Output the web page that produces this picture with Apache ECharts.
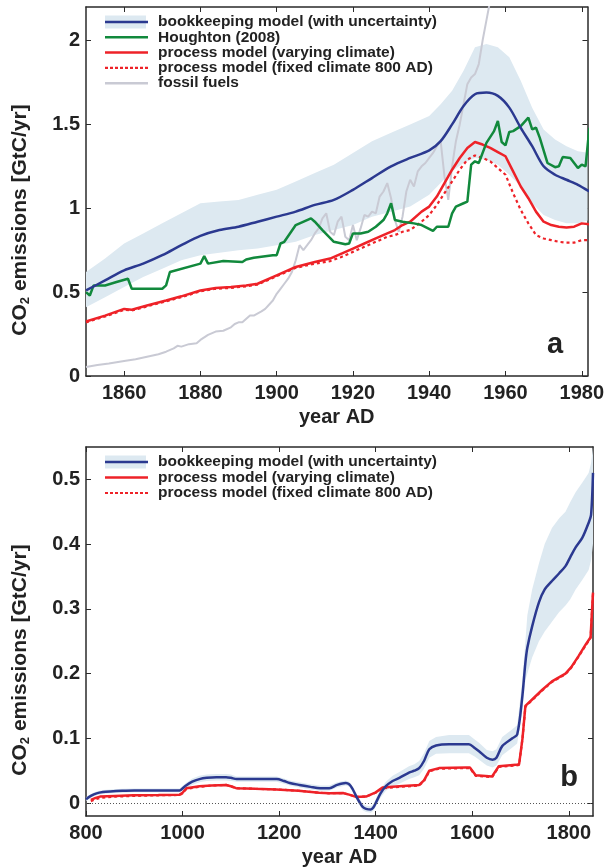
<!DOCTYPE html>
<html>
<head>
<meta charset="utf-8">
<script src="https://cdn.jsdelivr.net/npm/echarts@6/dist/echarts.min.js"></script>
<style>html,body{margin:0;padding:0;background:#fff}#c{width:607px;height:868px}</style>
</head>
<body>
<div id="c"></div>
<script>
// ---------- Panel a (1850-1982) ----------
var topXTicks = [1860, 1880, 1900, 1920, 1940, 1960, 1980];
var topYTicks = [0, 0.5, 1, 1.5, 2];

var bkYearsA = [1850,1855,1860,1865,1870,1875,1880,1885,1890,1895,1900,1905,1910,1915,1920,1925,1930,1935,1940,1943,1946,1949,1952,1955,1958,1961,1964,1967,1970,1973,1976,1979,1982];
var bkA      = [0.51,0.57,0.63,0.67,0.72,0.78,0.835,0.87,0.89,0.92,0.95,0.98,1.02,1.05,1.11,1.18,1.25,1.30,1.345,1.40,1.50,1.61,1.68,1.69,1.67,1.60,1.48,1.37,1.25,1.20,1.17,1.14,1.10];
var bkLoA    = [0.41,0.47,0.53,0.59,0.64,0.69,0.72,0.735,0.75,0.76,0.78,0.80,0.84,0.87,0.90,0.95,0.98,1.01,1.08,1.15,1.22,1.27,1.30,1.29,1.26,1.20,1.13,1.03,0.96,0.93,0.91,0.91,0.93];
var bkHiA    = [0.62,0.70,0.79,0.85,0.91,0.97,1.03,1.04,1.05,1.08,1.11,1.16,1.21,1.26,1.33,1.40,1.45,1.50,1.55,1.62,1.70,1.82,1.96,1.98,1.96,1.90,1.76,1.60,1.47,1.41,1.37,1.34,1.33];

var hoYears = [1850,1851,1852,1855,1858,1861,1862,1870,1871,1872,1880,1881,1882,1886,1891,1892,1894,1899,1900,1901,1902,1905,1909,1910,1912,1915,1918,1919,1920,1922,1924,1926,1928,1929,1930,1931,1933,1936,1938,1941,1942,1945,1946,1947,1949,1950,1951,1952,1953,1955,1957,1958,1959,1960,1961,1962,1964,1966,1967,1968,1969,1971,1973,1974,1975,1977,1978,1979,1980,1981,1982];
var houghton = [0.50,0.48,0.54,0.54,0.56,0.58,0.52,0.52,0.54,0.62,0.67,0.715,0.67,0.685,0.68,0.695,0.705,0.72,0.72,0.79,0.80,0.90,0.94,0.92,0.87,0.80,0.785,0.79,0.85,0.85,0.86,0.89,0.93,0.97,1.03,0.93,0.92,0.91,0.90,0.865,0.89,0.89,0.97,1.01,1.03,1.04,1.26,1.28,1.27,1.39,1.46,1.52,1.395,1.375,1.455,1.46,1.49,1.54,1.47,1.48,1.42,1.27,1.245,1.25,1.305,1.30,1.27,1.24,1.26,1.25,1.48];

var pmYearsA = [1850,1855,1860,1862,1866,1871,1875,1880,1884,1888,1892,1895,1900,1905,1910,1914,1917,1920,1923,1926,1929,1931,1933,1935,1938,1940,1942,1944,1946,1948,1950,1952,1954,1956,1958,1960,1962,1964,1966,1968,1970,1972,1974,1976,1978,1980,1982];
var pmVarA   = [0.325,0.36,0.40,0.395,0.42,0.45,0.475,0.51,0.525,0.53,0.54,0.55,0.60,0.65,0.68,0.70,0.73,0.76,0.79,0.82,0.85,0.87,0.90,0.92,0.98,1.01,1.07,1.15,1.23,1.30,1.36,1.395,1.38,1.36,1.335,1.31,1.22,1.13,1.06,0.98,0.92,0.90,0.89,0.885,0.89,0.91,0.905];
var pmFixA   = [0.32,0.355,0.395,0.39,0.415,0.445,0.47,0.505,0.52,0.525,0.535,0.545,0.595,0.645,0.67,0.685,0.71,0.74,0.77,0.80,0.83,0.84,0.86,0.87,0.92,0.96,1.02,1.09,1.16,1.23,1.29,1.315,1.30,1.28,1.24,1.20,1.09,0.99,0.91,0.84,0.82,0.81,0.80,0.795,0.795,0.81,0.81];

var ffYears = [1850,1853,1856,1860,1863,1866,1869,1871,1873,1874,1875,1877,1879,1880,1882,1884,1886,1888,1889,1890,1891,1893,1894,1896,1897,1899,1900,1901,1902,1903,1904,1905,1906,1907,1908,1909,1910,1911,1912,1913,1914,1915,1916,1917,1918,1919,1920,1921,1922,1923,1924,1925,1926,1927,1928,1929,1930,1931,1932,1933,1934,1935,1936,1937,1938,1939,1940,1941,1942,1943,1944,1945,1946,1947,1948,1949,1950,1951,1952,1953,1954,1955,1956,1957,1958];
var fossil  = [0.054,0.065,0.075,0.09,0.10,0.115,0.13,0.145,0.165,0.18,0.175,0.19,0.195,0.215,0.245,0.265,0.27,0.29,0.31,0.32,0.32,0.36,0.36,0.385,0.40,0.45,0.49,0.52,0.55,0.58,0.62,0.69,0.78,0.75,0.78,0.81,0.85,0.88,0.94,0.97,0.86,0.84,0.92,0.95,0.83,0.81,0.90,0.81,0.88,0.96,0.95,0.98,0.97,1.07,1.10,1.15,1.06,0.93,0.86,0.95,1.10,1.17,1.13,1.22,1.25,1.27,1.30,1.33,1.37,1.40,1.19,1.05,1.25,1.40,1.50,1.62,1.74,1.78,1.80,1.86,2.00,2.12,2.24,2.34,2.42];

// ---------- Panel b (800-1850) ----------
var botXTicks = [800, 1000, 1200, 1400, 1600, 1800];
var botYTicks = [0, 0.1, 0.2, 0.3, 0.4, 0.5];

var bkYearsB = [800,810,822,835,850,875,900,950,994,1005,1020,1035,1050,1070,1090,1100,1112,1150,1195,1210,1222,1242,1265,1285,1304,1320,1338,1345,1352,1360,1366,1373,1380,1390,1395,1400,1410,1421,1435,1449,1469,1480,1490,1500,1511,1525,1552,1593,1605,1614,1630,1642,1650,1662,1683,1693,1703,1710,1714,1724,1738,1750,1765,1780,1793,1803,1814,1828,1841,1846,1850];
var bkB   = [0.006,0.011,0.015,0.017,0.018,0.019,0.0195,0.0195,0.0195,0.026,0.033,0.037,0.039,0.040,0.040,0.039,0.037,0.037,0.037,0.034,0.031,0.028,0.025,0.023,0.023,0.028,0.031,0.029,0.022,0.010,0.002,-0.006,-0.009,-0.010,-0.007,0.000,0.015,0.026,0.034,0.039,0.047,0.050,0.054,0.065,0.083,0.089,0.091,0.091,0.085,0.080,0.070,0.067,0.070,0.088,0.100,0.106,0.160,0.217,0.240,0.273,0.310,0.330,0.343,0.355,0.366,0.380,0.395,0.410,0.433,0.445,0.510];
var bkLoB = [0.003,0.008,0.012,0.014,0.015,0.016,0.0165,0.0165,0.0165,0.022,0.028,0.032,0.034,0.035,0.035,0.034,0.033,0.033,0.033,0.030,0.027,0.024,0.021,0.019,0.019,0.024,0.027,0.025,0.018,0.006,-0.003,-0.011,-0.014,-0.015,-0.012,-0.006,0.008,0.019,0.026,0.030,0.037,0.040,0.043,0.053,0.070,0.076,0.077,0.077,0.072,0.067,0.058,0.055,0.058,0.074,0.086,0.092,0.140,0.190,0.200,0.225,0.250,0.265,0.280,0.295,0.305,0.315,0.330,0.345,0.360,0.375,0.400];
var bkHiB = [0.009,0.014,0.018,0.020,0.021,0.022,0.0225,0.0225,0.0225,0.030,0.038,0.042,0.044,0.045,0.045,0.044,0.041,0.041,0.041,0.038,0.035,0.032,0.029,0.027,0.027,0.032,0.035,0.033,0.026,0.014,0.007,-0.001,-0.004,-0.005,-0.002,0.006,0.022,0.033,0.042,0.048,0.057,0.060,0.065,0.077,0.096,0.102,0.105,0.105,0.098,0.093,0.082,0.080,0.083,0.102,0.114,0.120,0.185,0.250,0.290,0.330,0.370,0.400,0.425,0.440,0.450,0.465,0.480,0.495,0.510,0.525,0.550];

var pmYearsB = [810,820,829,860,898,950,994,1000,1008,1035,1060,1090,1100,1111,1150,1194,1240,1283,1304,1332,1345,1359,1380,1400,1414,1449,1490,1500,1511,1531,1586,1595,1607,1641,1655,1690,1697,1704,1710,1724,1745,1765,1793,1805,1820,1835,1845,1850];
var pmVarB = [0.005,0.008,0.010,0.011,0.012,0.0125,0.013,0.016,0.023,0.026,0.027,0.028,0.026,0.023,0.022,0.021,0.019,0.016,0.015,0.0155,0.013,0.0095,0.010,0.0165,0.024,0.026,0.028,0.035,0.050,0.054,0.055,0.055,0.043,0.041,0.057,0.059,0.060,0.100,0.150,0.160,0.175,0.188,0.200,0.210,0.227,0.245,0.256,0.325];
var pmFixB = [0.003,0.006,0.008,0.010,0.011,0.012,0.0125,0.015,0.022,0.025,0.027,0.028,0.026,0.023,0.022,0.021,0.019,0.016,0.015,0.0155,0.013,0.0095,0.010,0.016,0.023,0.025,0.027,0.034,0.049,0.053,0.054,0.054,0.042,0.040,0.056,0.058,0.059,0.100,0.149,0.159,0.174,0.187,0.199,0.209,0.226,0.244,0.255,0.323];

// ---------- styling ----------
var C_BLUE = '#2b3990', C_GREEN = '#11893c', C_RED = '#ee2228', C_GRAY = '#c9cad4', C_BAND = '#dde9f1', C_AX = '#2a2a2a';
var FONT = '"Liberation Sans", Arial, Helvetica, sans-serif';

function pairs(xs, ys) { return xs.map(function (x, i) { return [x, ys[i]]; }); }
function fmtY(v) { return String(+(+v).toFixed(2)); }
function fmtX(v) { return String(Math.round(v)); }

function xAx(grid, pos, min, max, ticks, name) {
  var main = pos === 'bottom';
  return {
    type: 'value', gridIndex: grid, position: pos, min: min, max: max,
    axisLine: { show: true, onZero: false, lineStyle: { color: C_AX, width: 1.5 } },
    axisTick: { show: true, inside: true, length: 5, customValues: ticks, lineStyle: { color: C_AX, width: 1 } },
    axisLabel: { show: main, customValues: ticks, margin: 7, color: '#222', fontSize: 20, fontWeight: 'bold', fontFamily: FONT, formatter: fmtX },
    splitLine: { show: false },
    name: main ? name : '', nameLocation: 'middle', nameGap: 31,
    nameTextStyle: { color: '#222', fontSize: 20, fontWeight: 'bold', fontFamily: FONT }
  };
}
function yAx(grid, pos, min, max, ticks) {
  var main = pos === 'left';
  return {
    type: 'value', gridIndex: grid, position: pos, min: min, max: max,
    axisLine: { show: true, onZero: false, lineStyle: { color: C_AX, width: 1.5 } },
    axisTick: { show: true, inside: true, length: 5, customValues: ticks, lineStyle: { color: C_AX, width: 1 } },
    axisLabel: { show: main, customValues: ticks, margin: 6, color: '#222', fontSize: 20, fontWeight: 'bold', fontFamily: FONT, formatter: fmtY },
    splitLine: { show: false }
  };
}
function lineS(name, xi, yi, data, color, width, opts) {
  var s = {
    name: name, type: 'line', xAxisIndex: xi, yAxisIndex: yi, data: data,
    showSymbol: false, symbol: 'none', clip: true, silent: true,
    lineStyle: { color: color, width: width }
  };
  if (opts) for (var k in opts) s[k] = opts[k];
  return s;
}
// uncertainty band: one polygon built from the lo/hi arrays through the axes' coordinate system
function bandS(xi, yi, years, lo, hi) {
  return {
    type: 'custom', xAxisIndex: xi, yAxisIndex: yi, silent: true, clip: true, z: 1,
    data: [[years[0], lo[0]]],
    renderItem: function (params, api) {
      var pts = [];
      for (var i = 0; i < years.length; i++) pts.push(api.coord([years[i], hi[i]]));
      for (var j = years.length - 1; j >= 0; j--) pts.push(api.coord([years[j], lo[j]]));
      var cs = params.coordSys;
      return {
        type: 'polygon',
        shape: { points: pts },
        style: { fill: C_BAND, stroke: null },
        clipPath: { type: 'rect', shape: { x: cs.x, y: cs.y, width: cs.width, height: cs.height } }
      };
    }
  };
}

var series = [
  bandS(0, 0, bkYearsA, bkLoA, bkHiA),
  lineS('fossil fuels', 0, 0, pairs(ffYears, fossil), C_GRAY, 2),
  lineS('process model (fixed climate 800 AD)', 0, 0, pairs(pmYearsA, pmFixA), C_RED, 2.2, { lineStyle: { color: C_RED, width: 2.2, type: [3, 3] } }),
  lineS('process model (varying climate)', 0, 0, pairs(pmYearsA, pmVarA), C_RED, 2.5),
  lineS('Houghton (2008)', 0, 0, pairs(hoYears, houghton), C_GREEN, 2.5),
  lineS('bookkeeping model (with uncertainty)', 0, 0, pairs(bkYearsA, bkA), C_BLUE, 2.5, { smooth: 0.3 }),
  bandS(2, 2, bkYearsB, bkLoB, bkHiB),
  lineS('process model (fixed climate 800 AD) b', 2, 2, pairs(pmYearsB, pmFixB), C_RED, 2.2, { lineStyle: { color: C_RED, width: 2.2, type: [3, 3] } }),
  lineS('process model (varying climate) b', 2, 2, pairs(pmYearsB, pmVarB), C_RED, 2.5, {
    markLine: { silent: true, symbol: 'none', label: { show: false }, lineStyle: { color: '#555', width: 1, type: [1, 2] }, data: [{ yAxis: 0 }] }
  }),
  lineS('bookkeeping model (with uncertainty) b', 2, 2, pairs(bkYearsB, bkB), C_BLUE, 2.5, { smooth: 0.3 })
];

// ---------- legend & annotations (graphic) ----------
var legendFont = 'bold 15.5px ' + FONT;
function legendRows(rows, x0, y0, dy) {
  var els = [];
  rows.forEach(function (r, i) {
    var y = y0 + i * dy;
    if (r.band) els.push({ type: 'rect', shape: { x: x0, y: y - 6.5, width: 41, height: 13 }, style: { fill: C_BAND } });
    var ls = { stroke: r.color, lineWidth: r.dash ? 2.2 : 2.5 };
    if (r.dash) ls.lineDash = [3, 2];
    els.push({ type: 'line', shape: { x1: x0, y1: y, x2: x0 + 43, y2: y }, style: ls });
    els.push({ type: 'text', x: x0 + 53, y: y, style: { text: r.text, font: legendFont, fill: '#222', verticalAlign: 'middle' } });
  });
  return els;
}
var legendA = [
  { text: 'bookkeeping model (with uncertainty)', color: C_BLUE, band: true },
  { text: 'Houghton (2008)', color: C_GREEN },
  { text: 'process model (varying climate)', color: C_RED },
  { text: 'process model (fixed climate 800 AD)', color: C_RED, dash: true },
  { text: 'fossil fuels', color: C_GRAY }
];
var legendB = [
  { text: 'bookkeeping model (with uncertainty)', color: C_BLUE, band: true },
  { text: 'process model (varying climate)', color: C_RED },
  { text: 'process model (fixed climate 800 AD)', color: C_RED, dash: true }
];
var yTitleRich = {
  a: { fontSize: 21, fontWeight: 'bold', fontFamily: FONT, fill: '#222', lineHeight: 24 },
  s: { fontSize: 13, fontWeight: 'bold', fontFamily: FONT, fill: '#222', lineHeight: 13, verticalAlign: 'bottom' }
};
function yTitle(cy) {
  return { type: 'text', x: 20, y: cy, rotation: Math.PI / 2,
    style: { text: '{a|CO}{s|2}{a| emissions [GtC/yr]}', rich: yTitleRich, align: 'center', verticalAlign: 'middle' } };
}
var graphics = []
  .concat(legendRows(legendA, 105, 22, 15.3))
  .concat(legendRows(legendB, 105, 462, 15.5))
  .concat([
    yTitle(220), yTitle(660),
    { type: 'text', x: 555, y: 345, style: { text: 'a', font: 'bold 29px ' + FONT, fill: '#222', align: 'center', verticalAlign: 'middle' } },
    { type: 'text', x: 569, y: 778, style: { text: 'b', font: 'bold 29px ' + FONT, fill: '#222', align: 'center', verticalAlign: 'middle' } }
  ]);

var chart = echarts.init(document.getElementById('c'), null, { renderer: 'canvas' });
chart.setOption({
  animation: false,
  backgroundColor: '#fff',
  grid: [
    { left: 86, right: 14, top: 7, height: 369, containLabel: false },
    { left: 86, right: 14, top: 447, height: 369, containLabel: false }
  ],
  xAxis: [
    xAx(0, 'bottom', 1850, 1981.5, topXTicks, 'year AD'),
    xAx(0, 'top', 1850, 1981.5, topXTicks, ''),
    xAx(1, 'bottom', 800, 1850, botXTicks, 'year AD'),
    xAx(1, 'top', 800, 1850, botXTicks, '')
  ],
  yAxis: [
    yAx(0, 'left', 0, 2.2, topYTicks),
    yAx(0, 'right', 0, 2.2, topYTicks),
    yAx(1, 'left', -0.02, 0.55, botYTicks),
    yAx(1, 'right', -0.02, 0.55, botYTicks)
  ],
  series: series,
  graphic: graphics
});
</script>
</body>
</html>
